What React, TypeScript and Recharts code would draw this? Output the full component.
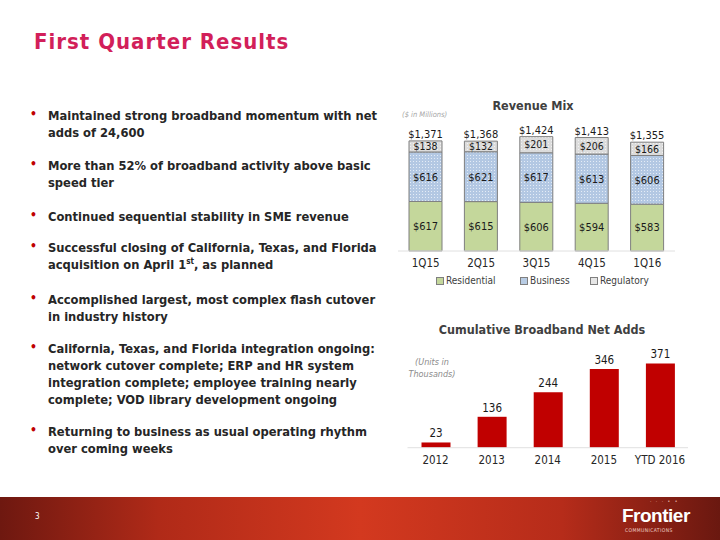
import React from "react";
import { BarChart, Bar, XAxis, YAxis, LabelList, Legend } from "recharts";

// Revenue Mix ($ in millions)
const quarters = ["1Q15", "2Q15", "3Q15", "4Q15", "1Q16"];
const residential = [617, 615, 606, 594, 583];
const business = [616, 621, 617, 613, 606];
const regulatory = [138, 132, 201, 206, 166];
const totals = [1371, 1368, 1424, 1413, 1355];

// Cumulative broadband net adds (thousands)
const years = ["2012", "2013", "2014", "2015", "YTD 2016"];
const netAdds = [23, 136, 244, 346, 371];

const FONT = "'DejaVu Sans Condensed', 'DejaVu Sans', sans-serif";
const TITLE_RED = "#d21f5a";

const revenueData = quarters.map((q, i) => ({
  q,
  residential: residential[i],
  business: business[i],
  regulatory: regulatory[i],
  total: totals[i],
}));

const addsData = years.map((y, i) => ({ y, adds: netAdds[i] }));

const dollars = (v: any) => `$${Number(v).toLocaleString("en-US")}`;

const bullets: React.ReactNode[][] = [
  ["Maintained strong broadband momentum with net", "adds of 24,600"],
  ["More than 52% of broadband activity above basic", "speed tier"],
  ["Continued sequential stability in SME revenue"],
  [
    "Successful closing of California, Texas, and Florida",
    <>
      acquisition on April 1
      <span style={{ fontSize: 8, position: "relative", top: -5 }}>st</span>, as planned
    </>,
  ],
  ["Accomplished largest, most complex flash cutover", "in industry history"],
  [
    "California, Texas, and Florida integration ongoing:",
    "network cutover complete; ERP and HR system",
    "integration complete; employee training nearly",
    "complete; VOD library development ongoing",
  ],
  ["Returning to business as usual operating rhythm", "over coming weeks"],
];
const bulletTops = [107, 157, 207.5, 239, 290.5, 340, 423];

const legendItems = [
  { name: "Residential", fill: "#c4d79b", left: 56 },
  { name: "Business", fill: "#b8cce4", left: 140 },
  { name: "Regulatory", fill: "#e6e6e6", left: 210 },
];

function RevenueLegend() {
  return (
    <div style={{ position: "relative", height: 14, fontFamily: FONT, fontSize: 10, color: "#404040" }}>
      {legendItems.map((it) => (
        <div key={it.name} style={{ position: "absolute", left: it.left, top: 0, display: "flex", alignItems: "center" }}>
          <span style={{ width: 6, height: 6, background: it.fill, border: "1px solid #7f7f7f", marginRight: 2 }} />
          {it.name}
        </div>
      ))}
    </div>
  );
}

export default function App() {
  return (
    <div style={{ position: "fixed", left: 0, top: 0, width: 720, height: 540, background: "#fff", overflow: "hidden", fontFamily: FONT }}>
      <div style={{ position: "absolute", left: 34, top: 29, fontSize: 22, fontWeight: "bold", color: TITLE_RED, letterSpacing: 1 }}>
        First Quarter Results
      </div>

      {bullets.map((lines, i) => (
        <div key={i} style={{ position: "absolute", left: 30, top: bulletTops[i], fontSize: 12.8, fontWeight: "bold", color: "#262626", lineHeight: "17px", whiteSpace: "nowrap" }}>
          <span style={{ position: "absolute", left: 0, top: -1, color: "#c00000", fontSize: 12 }}>•</span>
          <div style={{ marginLeft: 18 }}>
            {lines.map((l, j) => (
              <div key={j}>{l}</div>
            ))}
          </div>
        </div>
      ))}

      {/* Revenue Mix */}
      <div style={{ position: "absolute", left: 380, top: 98, width: 306, textAlign: "center", fontSize: 12.5, fontWeight: "bold", color: "#404040" }}>
        Revenue Mix
      </div>
      <div style={{ position: "absolute", left: 402, top: 110, fontSize: 7.5, fontStyle: "italic", color: "#a6a6a6" }}>
        ($ in Millions)
      </div>
      <div style={{ position: "absolute", left: 380, top: 95 }}>
        <BarChart
          width={320}
          height={200}
          data={revenueData}
          margin={{ top: 27.5, right: 25, bottom: 20, left: 18 }}
          barSize={33}
        >
          <defs>
            <pattern id="bizDots" width="3" height="3" patternUnits="userSpaceOnUse">
              <rect width="3" height="3" fill="#b3c8e3" />
              <rect width="1" height="1" fill="#e4ecf6" />
            </pattern>
            <pattern id="regDots" width="3" height="3" patternUnits="userSpaceOnUse">
              <rect width="3" height="3" fill="#dcdcdc" />
              <rect width="1" height="1" fill="#f2f2f2" />
            </pattern>
          </defs>
          <XAxis
            dataKey="q"
            height={24}
            axisLine={{ stroke: "#e0e0e0" }}
            tickLine={false}
            tick={{ fill: "#262626", fontSize: 11.5, fontFamily: FONT }}
          />
          <YAxis hide domain={[0, 1600]} />
          <Legend
            layout="horizontal"
            verticalAlign="middle"
            align="center"
            wrapperStyle={{ top: 180, left: 0, width: 320 }}
            content={() => <RevenueLegend />}
          />
          <Bar dataKey="residential" name="Residential" stackId="a" fill="#c4d79b" stroke="#7f7f7f" isAnimationActive={false}>
            <LabelList dataKey="residential" position="center" formatter={dollars} fill="#1a1a1a" fontSize={11} fontFamily={FONT} />
          </Bar>
          <Bar dataKey="business" name="Business" stackId="a" fill="url(#bizDots)" stroke="#7f7f7f" isAnimationActive={false}>
            <LabelList dataKey="business" position="center" formatter={dollars} fill="#1a1a1a" fontSize={11} fontFamily={FONT} />
          </Bar>
          <Bar dataKey="regulatory" name="Regulatory" stackId="a" fill="url(#regDots)" stroke="#7f7f7f" isAnimationActive={false}>
            <LabelList dataKey="regulatory" position="center" formatter={dollars} fill="#1a1a1a" fontSize={10.5} fontFamily={FONT} />
            <LabelList dataKey="total" position="top" offset={3} formatter={dollars} fill="#1a1a1a" fontSize={11} fontFamily={FONT} />
          </Bar>
        </BarChart>
      </div>

      {/* Cumulative Broadband Net Adds */}
      <div style={{ position: "absolute", left: 380, top: 322, width: 324, textAlign: "center", fontSize: 12.5, fontWeight: "bold", color: "#404040" }}>
        Cumulative Broadband Net Adds
      </div>
      <div style={{ position: "absolute", left: 400, top: 356, width: 64, textAlign: "center", fontSize: 9, lineHeight: "12px", fontStyle: "italic", color: "#8c8c8c" }}>
        (Units in
        <br />
        Thousands)
      </div>
      <div style={{ position: "absolute", left: 380, top: 315 }}>
        <BarChart
          width={320}
          height={160}
          data={addsData}
          margin={{ top: 41.8, right: 12, bottom: 0.3, left: 27.5 }}
          barSize={29}
        >
          <XAxis
            dataKey="y"
            height={27}
            axisLine={{ stroke: "#e0e0e0" }}
            tickLine={false}
            tick={{ fill: "#262626", fontSize: 11.5, fontFamily: FONT }}
          />
          <YAxis hide domain={[0, 400]} />
          <Bar dataKey="adds" fill="#c00000" isAnimationActive={false}>
            <LabelList dataKey="adds" position="top" fill="#1a1a1a" fontSize={11.5} fontFamily={FONT} />
          </Bar>
        </BarChart>
      </div>

      {/* footer band */}
      <div
        style={{
          position: "absolute",
          left: 0,
          top: 497,
          width: 720,
          height: 43,
          background: "linear-gradient(90deg, #6e1810 0%, #b02a18 22%, #d3391f 50%, #b62c1a 78%, #6a1810 100%)",
        }}
      >
        <div style={{ position: "absolute", left: 35, top: 15, fontSize: 8, color: "#fff" }}>3</div>
        <div style={{ position: "absolute", left: 650, top: 1, fontSize: 5, color: "#f3c9bd", letterSpacing: 1.5 }}>
          · · · • •
        </div>
        <div style={{ position: "absolute", left: 622, top: 8, fontSize: 19, fontWeight: "bold", color: "#fff", fontFamily: "'Liberation Sans Narrow', 'Liberation Sans', sans-serif", letterSpacing: -0.5 }}>
          Frontier
        </div>
        <div style={{ position: "absolute", left: 625, top: 30, fontSize: 5, color: "#f0d0c8", letterSpacing: 0.4 }}>
          COMMUNICATIONS
        </div>
      </div>
    </div>
  );
}
